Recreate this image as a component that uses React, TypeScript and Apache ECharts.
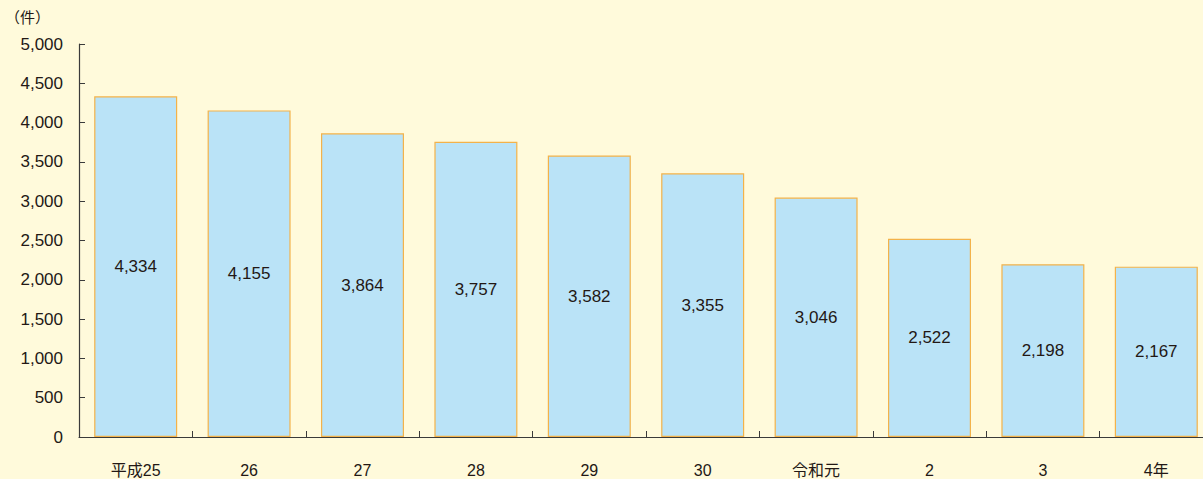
import React, { useEffect, useRef } from "react";
import * as echarts from "echarts";

const categories = ["平成25", "26", "27", "28", "29", "30", "令和元", "2", "3", "4年"];
const values = [4334, 4155, 3864, 3757, 3582, 3355, 3046, 2522, 2198, 2167];
const unitLabel = "（件）";

export default function App() {
  const ref = useRef<HTMLDivElement>(null);
  useEffect(() => {
    document.body.style.margin = "0";
    const chart = echarts.init(ref.current!, null, { renderer: "svg" });
    const font = "'Liberation Sans', 'Noto Sans CJK JP', sans-serif";
    chart.setOption({
      animation: false,
      backgroundColor: "#FFFADB",
      textStyle: { fontFamily: font },
      graphic: [
        {
          type: "text",
          left: 5,
          top: 10,
          style: { text: unitLabel, fontSize: 15, fill: "#231815", fontFamily: font },
        },
      ],
      grid: { left: 79, right: 0, top: 44, bottom: 42, containLabel: false },
      xAxis: {
        type: "category",
        data: categories,
        axisLine: { lineStyle: { color: "#3a3a3a", width: 1.2 } },
        axisTick: { show: true, inside: true, length: 6, lineStyle: { color: "#3a3a3a" } },
        axisLabel: { color: "#231815", fontSize: 16, margin: 25, fontFamily: font },
      },
      yAxis: {
        type: "value",
        min: 0,
        max: 5000,
        interval: 500,
        axisLine: { show: true, lineStyle: { color: "#3a3a3a", width: 1.2 } },
        axisTick: { show: true, inside: true, length: 6, lineStyle: { color: "#3a3a3a" } },
        splitLine: { show: false },
        axisLabel: {
          color: "#231815",
          fontSize: 17,
          margin: 16,
          fontFamily: font,
          formatter: (v: number) => v.toLocaleString("en-US"),
        },
      },
      series: [
        {
          type: "bar",
          data: values,
          barWidth: 83,
          itemStyle: { color: "#BAE3F7", borderColor: "#F3B24A", borderWidth: 1.2 },
          label: {
            show: true,
            position: "inside",
            color: "#231815",
            fontSize: 17,
            fontFamily: font,
            formatter: (p: any) => Number(p.value).toLocaleString("en-US"),
          },
        },
      ],
    });
    return () => chart.dispose();
  }, []);
  return (
    <div style={{ width: 1203, height: 479, overflow: "hidden", position: "relative" }}>
      <div ref={ref} style={{ width: 1213, height: 479 }} />
    </div>
  );
}
